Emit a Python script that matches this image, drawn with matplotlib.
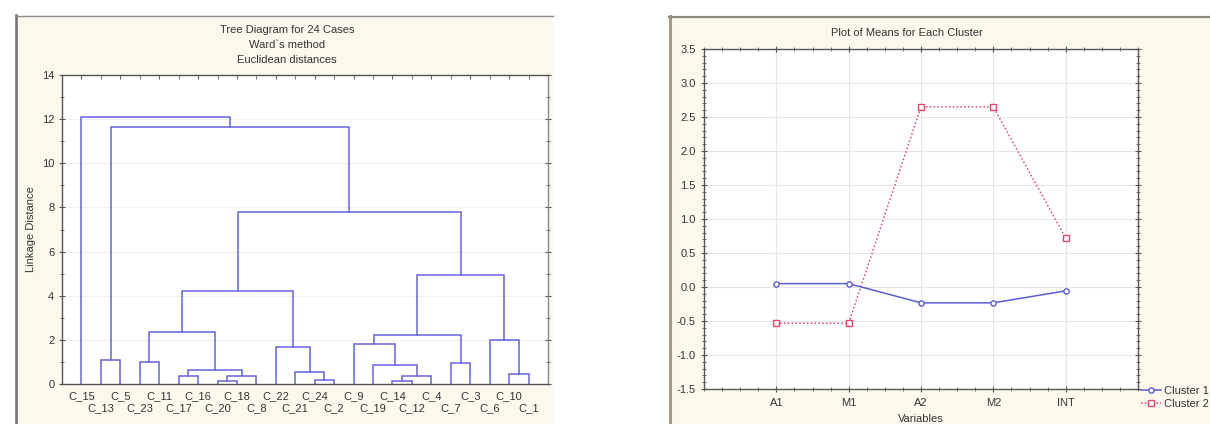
import numpy as np
import matplotlib
matplotlib.use("Agg")
import matplotlib.pyplot as plt
from matplotlib.patches import Rectangle
from matplotlib.lines import Line2D
from matplotlib.ticker import MultipleLocator

plt.rcParams['font.family'] = ['Liberation Sans', 'DejaVu Sans']
plt.rcParams['axes.unicode_minus'] = False

# Dendrogram data (leaf order as drawn, left to right)
leaf_labels = ["C_15", "C_13", "C_5", "C_23", "C_11", "C_17", "C_16", "C_20",
               "C_18", "C_8", "C_22", "C_21", "C_24", "C_2", "C_9", "C_19",
               "C_14", "C_12", "C_4", "C_7", "C_3", "C_6", "C_10", "C_1"]

# merges: (left, right, linkage distance); strings are cases, ints refer to earlier merges
merges = [
    ("C_13", "C_5", 1.10),   # 0
    ("C_23", "C_11", 0.98),  # 1
    ("C_17", "C_16", 0.38),  # 2
    ("C_20", "C_18", 0.12),  # 3
    (3, "C_8", 0.38),        # 4
    (2, 4, 0.65),            # 5
    (1, 5, 2.35),            # 6
    ("C_24", "C_2", 0.17),   # 7
    ("C_21", 7, 0.54),       # 8
    ("C_22", 8, 1.66),       # 9
    (6, 9, 4.20),            # 10
    ("C_14", "C_12", 0.15),  # 11
    (11, "C_4", 0.38),       # 12
    ("C_19", 12, 0.85),      # 13
    ("C_9", 13, 1.81),       # 14
    ("C_7", "C_3", 0.97),    # 15
    (14, 15, 2.24),          # 16
    ("C_10", "C_1", 0.44),   # 17
    ("C_6", 17, 1.99),       # 18
    (16, 18, 4.93),          # 19
    (10, 19, 7.81),          # 20
    (0, 20, 11.66),          # 21
    ("C_15", 21, 12.08),     # 22
]

# Means plot data
variables = ["A1", "M1", "A2", "M2", "INT"]
cluster1 = [0.05, 0.05, -0.233, -0.233, -0.057]
cluster2 = [-0.533, -0.533, 2.65, 2.65, 0.72]

W, H = 1210, 424
fig = plt.figure(figsize=(W / 100, H / 100), dpi=100)
fig.patch.set_facecolor('white')

cream = '#fcf9ec'


def px_rect(x0, y0, x1, y1):
    return [x0 / W, 1 - y1 / H, (x1 - x0) / W, (y1 - y0) / H]


# panel backgrounds and window edges
fig.patches.append(Rectangle((15 / W, 0), (553 - 15) / W, 1 - 15 / H,
                             transform=fig.transFigure, facecolor=cream, edgecolor='none', zorder=-10))
fig.patches.append(Rectangle((669 / W, 0), (W - 669) / W, 1 - 16 / H,
                             transform=fig.transFigure, facecolor=cream, edgecolor='none', zorder=-10))
fig.add_artist(Line2D([15.5 / W, 15.5 / W], [0, 1 - 15 / H], color='#707070', lw=1.8, zorder=-5))
fig.add_artist(Line2D([15 / W, 553 / W], [1 - 15.5 / H, 1 - 15.5 / H], color='#8c8c8c', lw=1.0, zorder=-5))
fig.add_artist(Line2D([670 / W, 670 / W], [0, 1 - 16 / H], color='#a09c88', lw=2.2, zorder=-5))
fig.add_artist(Line2D([669 / W, 1], [1 - 16.5 / H, 1 - 16.5 / H], color='#908c7c', lw=1.6, zorder=-5))

# ---------------- Tree diagram ----------------
ax1 = fig.add_axes(px_rect(62, 75, 548, 384))
ax1.set_facecolor('white')
dcol = '#6464dc'

pos = {name: i + 1 for i, name in enumerate(leaf_labels)}
node_x, node_h = [], []


def get_node(n):
    if isinstance(n, str):
        return pos[n], 0.0
    return node_x[n], node_h[n]


for a, b, h in merges:
    xa, ha = get_node(a)
    xb, hb = get_node(b)
    ax1.plot([xa, xa, xb, xb], [ha, h, h, hb], color=dcol, lw=1.1, solid_joinstyle='miter')
    node_x.append((xa + xb) / 2)
    node_h.append(h)

ax1.set_xlim(0, len(leaf_labels) + 1)
ax1.set_ylim(0, 14)
ax1.yaxis.set_major_locator(MultipleLocator(2))
ax1.yaxis.set_minor_locator(MultipleLocator(1))
# upper row of case labels on major ticks, lower row on minor ticks
ax1.set_xticks(range(1, len(leaf_labels) + 1, 2))
ax1.set_xticklabels(leaf_labels[0::2])
ax1.set_xticks(range(2, len(leaf_labels) + 1, 2), minor=True)
ax1.set_xticklabels(leaf_labels[1::2], minor=True)
ax1.tick_params(axis='x', which='major', bottom=False, top=True, direction='in', length=3,
                pad=5, labelsize=8, labelcolor='#333333', color='#666666')
ax1.tick_params(axis='x', which='minor', bottom=False, top=True, direction='in', length=3,
                pad=14, labelsize=8, labelcolor='#333333', color='#666666')
ax1.tick_params(axis='y', which='major', left=True, right=True, direction='inout', length=5,
                labelsize=8, labelcolor='#333333', color='#555555', pad=3)
ax1.tick_params(axis='y', which='minor', left=True, right=True, direction='inout', length=3,
                color='#555555')
ax1.grid(True, axis='y', which='major', color='#f1f1f1', lw=0.8)
ax1.set_axisbelow(True)
for s in ax1.spines.values():
    s.set_color('#555555')
    s.set_linewidth(1.0)
ax1.spines['right'].set_color('#888888')
ax1.set_ylabel('Linkage Distance', fontsize=8, color='#333333', labelpad=4)

fig.text(287 / W, 1 - 30 / H, 'Tree Diagram for 24 Cases', ha='center', va='center',
         fontsize=8, color='#333333')
fig.text(287 / W, 1 - 45 / H, 'Ward`s method', ha='center', va='center',
         fontsize=8, color='#333333')
fig.text(287 / W, 1 - 60 / H, 'Euclidean distances', ha='center', va='center',
         fontsize=8, color='#333333')

# ---------------- Plot of means ----------------
ax2 = fig.add_axes(px_rect(704, 49, 1138, 389))
ax2.set_facecolor('white')
xs = np.arange(1, len(variables) + 1)
blue = '#5c5cd6'
red = '#e0486e'
ax2.plot(xs, cluster1, color=blue, lw=1.1, marker='o', ms=3.8, mfc='white', mec=blue,
         mew=1.0, label='Cluster 1', zorder=3)
ax2.plot(xs, cluster2, color=red, lw=1.1, ls=(0, (1, 1.5)), marker='s', ms=3.8, mfc='white',
         mec=red, mew=1.0, label='Cluster 2', zorder=3)

ax2.set_xlim(0, len(variables) + 1)
ax2.set_ylim(-1.5, 3.5)
ax2.set_xticks(xs)
ax2.set_xticklabels(variables)
ax2.xaxis.set_minor_locator(MultipleLocator(0.25))
ax2.yaxis.set_major_locator(MultipleLocator(0.5))
ax2.yaxis.set_minor_locator(MultipleLocator(0.1))
ax2.tick_params(axis='both', which='major', top=True, right=True, direction='inout', length=5,
                labelsize=8, labelcolor='#333333', color='#555555')
ax2.tick_params(axis='both', which='minor', top=True, right=True, direction='inout', length=3,
                color='#555555')
ax2.tick_params(axis='x', pad=4)
ax2.grid(True, which='major', color='#e6e6e6', lw=0.8)
ax2.set_axisbelow(True)
for s in ax2.spines.values():
    s.set_color('#555555')
    s.set_linewidth(1.0)

fig.text(907 / W, 1 - 33 / H, 'Plot of Means for Each Cluster', ha='center', va='center',
         fontsize=8, color='#333333')
fig.text(921 / W, 1 - 414 / H, 'Variables', ha='center', va='top', fontsize=8, color='#333333')

ax2.legend(loc='upper left', bbox_to_anchor=((1141 - 704) / 434, (389 - 386) / 340),
           frameon=False, fontsize=8, handlelength=1.8, handletextpad=0.3,
           labelspacing=0.3, borderaxespad=0, borderpad=0, labelcolor='#333333')

fig.savefig('out.png', dpi=100, facecolor=fig.get_facecolor())
